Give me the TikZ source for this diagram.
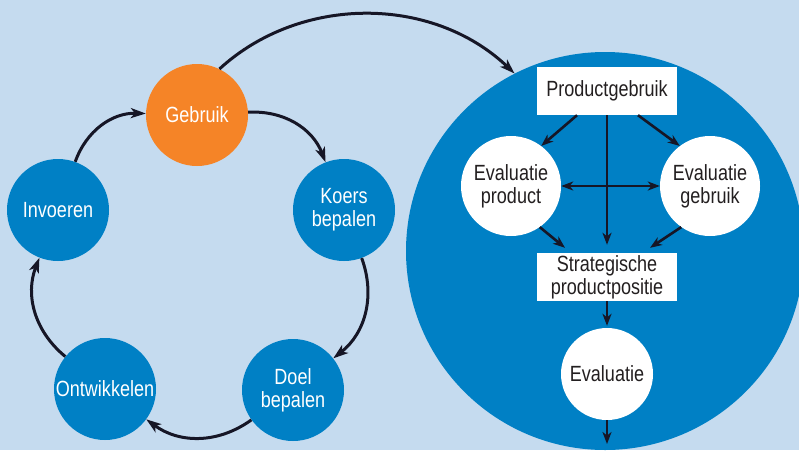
\documentclass[tikz,border=0pt]{standalone}
\usepackage{fontspec}
\setmainfont{Liberation Sans}[FakeStretch=0.82]
\usetikzlibrary{arrows.meta}
\definecolor{bgblue}{HTML}{C5DBEF}
\definecolor{circblue}{HTML}{0080C5}
\definecolor{circorange}{HTML}{F58427}
\definecolor{arrowc}{HTML}{161626}
\definecolor{textdark}{HTML}{231F20}
\begin{document}
\begin{tikzpicture}[x=1pt,y=-1pt,
  every node/.style={font=\fontsize{22}{23}\selectfont, align=center},
  cyclenode/.style={circle, fill=circblue, text=white, minimum size=102pt, inner sep=0pt},
  activenode/.style={cyclenode, fill=circorange},
  evalnode/.style={circle, fill=white, text=textdark, minimum size=100pt, inner sep=0pt},
  boxnode/.style={rectangle, fill=white, text=textdark, minimum width=140pt, minimum height=48pt, inner sep=0pt},
  cyclearrow/.style={draw=arrowc, line width=3pt, -{Stealth[length=15pt,width=10pt,inset=4pt]}},
  flowarrow/.style={draw=arrowc, line width=2.6pt, -{Stealth[length=12pt,width=9pt,inset=3.5pt]}},
  flowboth/.style={draw=arrowc, line width=2.6pt, {Stealth[length=12pt,width=9pt,inset=3.5pt]}-{Stealth[length=12pt,width=9pt,inset=3.5pt]}}
]
\useasboundingbox (0,0) rectangle (799,450);
\fill[bgblue] (0,0) rectangle (799,450);
\clip (0,0) rectangle (799,450);

% large circle holding the evaluation scheme
\node[circle, fill=circblue, minimum size=398pt, inner sep=0pt] (big) at (605,251) {};

% cycle of five steps
\node[activenode] (geb) at (197,115) {Gebruik};
\node[cyclenode] (koers) at (344,210) {Koers\\bepalen};
\node[cyclenode] (doel) at (293,390) {Doel\\bepalen};
\node[cyclenode] (ontw) at (105,389) {Ontwikkelen};
\node[cyclenode] (inv) at (58,210) {Invoeren};

\draw[cyclearrow] (geb) to[bend left=36] (koers);
\draw[cyclearrow] (koers) to[bend left=36] (doel);
\draw[cyclearrow] (doel) to[bend left=36] (ontw);
\draw[cyclearrow] (ontw) to[bend left=36] (inv);
\draw[cyclearrow] (inv) to[bend left=36] (geb);

% from use to the evaluation scheme
\draw[cyclearrow] (geb.64) .. controls (300,-5) and (432,-5) .. (big.117);

% evaluation scheme
\node[boxnode] (pg) at (607,91) {Productgebruik};
\node[evalnode] (evp) at (511,186) {Evaluatie\\product};
\node[evalnode] (evg) at (710,186) {Evaluatie\\gebruik};
\node[boxnode] (strat) at (607,277) {Strategische\\productpositie};
\node[evalnode, minimum size=92pt] (ev) at (607,374) {Evaluatie};
\coordinate (out) at (607,444);

\draw[flowarrow] ([xshift=-30pt]pg.south) -- (evp.53);
\draw[flowarrow] ([xshift=31pt]pg.south) -- (evg.127);
\draw[flowarrow] (pg.south) -- ([yshift=8pt]strat.north);
\draw[flowboth] (evp.east) -- (evg.west);
\draw[flowarrow] (evp.-55) -- ([xshift=-42pt,yshift=5pt]strat.north);
\draw[flowarrow] (evg.-125) -- ([xshift=43pt,yshift=5pt]strat.north);
\draw[flowarrow, shorten >=2pt] (strat.south) -- (ev.north);
\draw[flowarrow] (ev.south) -- (out);
\end{tikzpicture}
\end{document}
